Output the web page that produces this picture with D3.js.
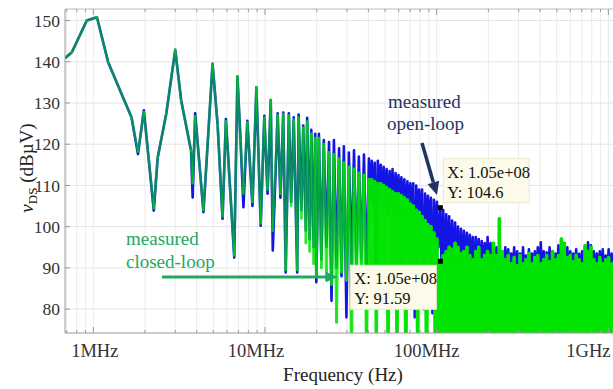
<!DOCTYPE html>
<html>
<head>
<meta charset="utf-8">
<script src="https://cdn.jsdelivr.net/npm/d3@7"></script>
<style>
  body { margin: 0; background: #fff; }
  svg { display: block; }
</style>
</head>
<body>
<div id="chart"></div>
<script>
// frequency points (MHz), both traces were measured on the same grid
const freqMHz = [
  0.686, 0.75, 0.916, 1.05, 1.22, 1.67, 1.82, 1.97, 2.25, 2.37, 2.66, 3.0, 3.25, 3.71, 3.79, 3.92,
  4.38, 4.95, 5.3, 5.66, 5.92, 6.62, 6.91, 7.2, 7.49, 7.89, 8.45, 8.91, 9.44, 9.91, 10.35, 10.8,
  11.1, 11.85, 12.3, 12.77, 13.2, 13.77, 14.2, 14.7, 15.4, 15.7, 16.3, 16.7, 17.3, 17.6, 18.2, 18.6,
  19.2, 19.6, 19.9,
  20.6, 21.3, 22.0, 22.8, 23.6, 24.4, 25.2, 26.1, 27.0, 27.9, 28.8, 29.8, 30.8, 31.9, 33.0, 34.1,
  35.2, 36.4, 37.7, 39.0, 40.3,
  41.1, 41.9, 42.8, 43.6, 44.5, 45.4, 46.3, 47.2, 48.2, 49.1,
  50.1, 51.1, 52.1, 53.2, 54.2, 55.3, 56.4, 57.6, 58.7, 59.9,
  61.1, 62.3, 63.6, 64.8, 66.1, 67.5, 68.8, 70.2, 71.6, 73.0,
  74.5, 76.0, 77.5, 79.0, 80.6, 82.2, 83.9, 85.6, 87.3, 89.0,
  90.8, 92.6, 94.5, 96.4, 98.3, 100.3, 102.3, 105,
  107.1, 109.2, 111.4, 113.6, 115.9, 118.2, 120.6, 123.0, 125.5, 128.0,
  130.5, 133.1, 135.8, 138.5, 141.3, 144.1, 147.0, 150.0, 153.0, 156.0,
  159.1, 162.3, 165.6, 168.9, 172.3, 175.7, 179.2, 182.8, 186.5, 190.2,
  194.0, 197.9, 201.8, 205.9, 210.0, 214.2, 218.5, 222.8, 227.3, 231.8,
  236.5, 241.2, 246.0, 250.9, 256.0, 261.1, 266.3, 271.6, 277.1, 282.6,
  288.3, 294.1, 299.9, 305.9, 312.0, 318.3, 324.6, 331.1, 337.8, 344.5,
  351.4, 358.4, 365.6, 372.9, 380.4, 388.0, 395.8, 403.7, 411.7, 420.0,
  428.4, 436.9, 445.7, 454.6, 463.7, 472.9, 482.4, 492.0, 501.9, 511.9,
  522.1, 532.6, 543.2, 554.1, 565.2, 576.5, 588.0, 599.8, 611.8, 624.0,
  636.5, 649.2, 662.2, 675.5, 689.0, 702.8, 716.8, 731.2, 745.8, 760.7,
  775.9, 791.5, 807.3, 823.4, 839.9, 856.7, 873.8, 891.3, 909.1, 927.3,
  945.8, 964.8, 984.1, 1003.7, 1023.8, 1044.3, 1065
];

// measured open-loop v_DS (dBuV)
const openLoopDb = [
  140.9, 142.3, 150.0, 150.8, 139.9, 126.5, 117.6, 128.2, 103.9, 116.7, 127.4, 142.9, 130.6, 118.4, 107.1, 127.5,
  103.5, 139.5, 124.5, 101.9, 126.1, 92.5, 136.4, 121.0, 104.7, 125.7, 105.0, 133.8, 100.2, 126.9, 108.0, 130.7,
  94.2, 127.5, 107.0, 127.7, 88.9, 127.5, 106.0, 126.5, 88.9, 127.2, 104.0, 124.5, 99.0, 126.4, 97.0, 123.5,
  95.0, 122.5, 86.5,
  122.5, 92, 121, 95, 120.5, 82, 121, 90, 119, 88, 119.5, 78, 118, 91, 118.5, 89,
  117, 92, 117.5, 88, 116.5,
  106, 116, 105, 115.5, 84, 116, 106, 115, 104, 114.5,
  105, 114, 103, 113.5, 104, 114, 102, 113, 103, 112.5,
  103, 112, 102, 111.5, 101, 111, 102, 110.5, 100, 110.5,
  78, 110, 100, 109, 99, 109, 80, 108, 98, 107.5,
  97, 107, 79, 106.5, 96, 106, 95, 104.6,
  88, 104, 87, 103, 89, 102.5, 86, 101.5, 88, 101,
  87, 100, 88, 99.5, 86, 99, 89, 98.5, 87, 98,
  88, 97.5, 86, 97.5, 88, 97, 87, 96.5, 88, 96,
  87, 97.5, 88, 96, 86, 95.5, 88, 95, 87, 94.5,
  88, 94, 86, 95, 88, 94.5, 87, 93.5, 88, 95,
  86, 94, 88, 93.5, 87, 95, 88, 93, 86, 94.5,
  88, 93.5, 87, 94, 88, 95, 86, 96.2, 88, 94,
  87, 93.8, 88, 95, 86, 94, 88, 93.5, 87, 95.5,
  88, 94, 86, 93.5, 88, 95, 87, 94, 88, 93.5,
  86, 94.5, 88, 93.4, 87, 94, 88, 95, 86, 96.2,
  88, 95.5, 87, 94, 88, 93.5, 86, 94, 88, 94.5,
  87, 93, 88, 94.5, 86, 93.5, 88
];

// measured closed-loop v_DS (dBuV)
const closedLoopDb = [
  140.9, 142.3, 150.0, 150.8, 139.9, 126.5, 118.2, 127.8, 104.5, 116.7, 127.4, 142.9, 130.6, 118.4, 110.5, 126.8,
  104.0, 139.5, 124.5, 102.5, 125.6, 93.0, 136.4, 121.0, 108.0, 125.3, 106.0, 133.8, 100.8, 126.5, 109.0, 130.7,
  99.0, 127.0, 108.0, 127.3, 89.5, 127.0, 105.0, 126.0, 89.5, 126.5, 102.0, 124.0, 96.0, 125.5, 94.0, 122.5,
  91.0, 121.5, 88.0,
  121.5, 90, 120, 87, 118, 86, 117.5, 76.8, 116.5, 89, 115.5, 87, 114.5, 70, 114, 88,
  113, 89, 112.5, 72, 111.5,
  88, 111.5, 89, 111, 70, 110.5, 87, 110.5, 88, 110,
  89, 109.5, 68, 109, 88, 108.5, 89, 108, 72, 108,
  88, 107.5, 87, 107, 66, 106.5, 89, 105.5, 88, 105,
  87, 104, 70, 103.5, 88, 102.5, 87, 101.5, 65, 100.5,
  88, 100, 86, 98.5, 64, 97, 66, 91.59,
  62, 93, 60, 94, 63, 95, 61, 94.5, 60, 96,
  62, 95, 61, 93.5, 63, 94, 60, 95, 62, 93,
  61, 92, 63, 94, 60, 95, 62, 92, 61, 93,
  63, 94, 60, 93, 62, 96, 61, 93, 63, 101.9,
  60, 94, 62, 92, 61, 93, 63, 91, 60, 92.5,
  62, 90.5, 61, 93, 63, 91, 60, 92, 62, 93.5,
  61, 91, 63, 92.5, 60, 93, 62, 91, 61, 92,
  63, 93, 60, 91.5, 62, 94, 61, 92, 63, 93,
  60, 97, 62, 96, 61, 92.5, 63, 93, 60, 91.5,
  62, 93, 61, 92, 63, 91, 60, 95.4, 62, 94,
  61, 95, 63, 92, 60, 91, 62, 92.5, 61, 91,
  63, 92, 60, 92.5, 62, 91, 61
];

const xTicks = [1, 10, 100, 1000];
const xTickLabels = ['1MHz', '10MHz', '100MHz', '1GHz'];
const xLabelShift = [1.5, -9, -10, -20];   // labels sit a bit left of their ticks in the original
const yTicks = [80, 90, 100, 110, 120, 130, 140, 150];

// data tips
const tipFreqMHz = 105;
const tipOpenDb = 104.6;
const tipClosedDb = 91.59;

const width = 613, height = 389;
const plot = { left: 65, right: 613, top: 9, bottom: 333 };

const blue = '#1414e6';
const green = '#00e400';
const navy = '#1f3464';
const textGreen = '#22a865';

const svg = d3.select('#chart').append('svg')
  .attr('width', width)
  .attr('height', height)
  .attr('font-family', '"Liberation Serif", "Times New Roman", Times, serif');

const x = d3.scaleLog().domain([0.684, 1064]).range([plot.left, plot.right]);
const y = d3.scaleLinear().domain([74.2, 152.8]).range([plot.bottom, plot.top]);
// the closed-loop trace piles up on itself where harmonics crowd together,
// so it gets more solid towards high frequency
const greenAlpha = d3.scaleLog().domain([15, 60]).range([0.55, 0.92]).clamp(true);
const greenWidth = d3.scaleLog().domain([15, 60]).range([2.5, 3.4]).clamp(true);

svg.append('clipPath').attr('id', 'clip')
  .append('rect')
    .attr('x', plot.left).attr('y', plot.top)
    .attr('width', plot.right - plot.left).attr('height', plot.bottom - plot.top);

// grid
const minorTicks = x.ticks().filter(t => t > x.domain()[0] && t < x.domain()[1]);
svg.append('g')
  .selectAll('line').data(minorTicks).enter().append('line')
    .attr('x1', d => x(d)).attr('x2', d => x(d))
    .attr('y1', plot.top).attr('y2', plot.bottom)
    .attr('stroke', '#ececec').attr('stroke-width', 1);
svg.append('g')
  .selectAll('line').data(yTicks).enter().append('line')
    .attr('x1', plot.left).attr('x2', plot.right)
    .attr('y1', d => y(d)).attr('y2', d => y(d))
    .attr('stroke', '#e4e4e4').attr('stroke-width', 1);

const pts = freqMHz.map((f, i) => ({ f, open: openLoopDb[i], closed: closedLoopDb[i] }));

const traces = svg.append('g').attr('clip-path', 'url(#clip)');

traces.append('path')
  .datum(pts)
  .attr('fill', 'none')
  .attr('stroke', blue)
  .attr('stroke-width', 2.6)
  .attr('stroke-linejoin', 'round')
  .attr('d', d3.line().x(d => x(d.f)).y(d => y(d.open)));

// closed-loop drawn as see-through segments, so it mixes with the blue trace
traces.append('g')
  .selectAll('line').data(d3.pairs(pts)).enter().append('line')
    .attr('x1', d => x(d[0].f)).attr('y1', d => y(d[0].closed))
    .attr('x2', d => x(d[1].f)).attr('y2', d => y(d[1].closed))
    .attr('stroke', green)
    .attr('stroke-opacity', d => greenAlpha(d[0].f))
    .attr('stroke-width', d => greenWidth(d[0].f))
    .attr('stroke-linecap', 'round');

// axes frame
const axisColor = '#9a9a9a';
svg.append('line').attr('x1', plot.left).attr('x2', plot.left).attr('y1', plot.top).attr('y2', plot.bottom)
  .attr('stroke', axisColor);
svg.append('line').attr('x1', plot.left).attr('x2', plot.right).attr('y1', plot.bottom).attr('y2', plot.bottom)
  .attr('stroke', axisColor);
svg.append('line').attr('x1', plot.left).attr('x2', plot.right).attr('y1', plot.top).attr('y2', plot.top)
  .attr('stroke', '#bbbbbb');

// x ticks (inward, top and bottom)
const xTickG = svg.append('g').attr('stroke', axisColor);
minorTicks.forEach(t => {
  const len = xTicks.includes(t) ? 6 : 3;
  xTickG.append('line').attr('x1', x(t)).attr('x2', x(t)).attr('y1', plot.bottom).attr('y2', plot.bottom - len);
  xTickG.append('line').attr('x1', x(t)).attr('x2', x(t)).attr('y1', plot.top).attr('y2', plot.top + len);
});
svg.append('g')
  .selectAll('text').data(xTicks).enter().append('text')
    .attr('x', (d, i) => x(d) + xLabelShift[i])
    .attr('y', 357)
    .attr('text-anchor', 'middle')
    .attr('font-size', 18.5)
    .attr('fill', '#333')
    .text((d, i) => xTickLabels[i]);

// y ticks
svg.append('g').attr('stroke', axisColor)
  .selectAll('line').data(yTicks).enter().append('line')
    .attr('x1', plot.left).attr('x2', plot.left + 5)
    .attr('y1', d => y(d)).attr('y2', d => y(d));
svg.append('g')
  .selectAll('text').data(yTicks).enter().append('text')
    .attr('x', 60)
    .attr('y', d => y(d))
    .attr('dy', '0.35em')
    .attr('text-anchor', 'end')
    .attr('font-size', 17.5)
    .attr('fill', '#333')
    .text(d => d);

// axis titles
svg.append('text')
  .attr('x', (plot.left + plot.right) / 2 + 4)
  .attr('y', 381)
  .attr('text-anchor', 'middle')
  .attr('font-size', 19)
  .attr('fill', '#222')
  .text('Frequency (Hz)');

const yTitle = svg.append('text')
  .attr('transform', 'translate(33,168) rotate(-90)')
  .attr('text-anchor', 'middle')
  .attr('font-size', 19)
  .attr('fill', '#222');
yTitle.append('tspan').attr('font-style', 'italic').text('v');
yTitle.append('tspan').attr('font-size', 13).attr('dy', 4).text('DS');
yTitle.append('tspan').attr('dy', -4).text(' (dBµV)');

// data tip markers and boxes
const mx = x(tipFreqMHz);
const tips = [
  { db: tipOpenDb, bx: mx + 3, by: y(tipOpenDb) - 49 },
  { db: tipClosedDb, bx: mx - 90, by: y(tipClosedDb) + 4 }
];
tips.forEach(t => {
  const g = svg.append('g');
  g.append('rect')
    .attr('x', t.bx).attr('y', t.by)
    .attr('width', 86).attr('height', 44)
    .attr('fill', '#fcfae8').attr('stroke', '#ece8d0');
  g.append('text').attr('x', t.bx + 4).attr('y', t.by + 19)
    .attr('font-size', 16.5).attr('fill', '#111')
    .text('X: ' + d3.format('.2e')(tipFreqMHz * 1e6).replace('e+', 'e+0'));
  g.append('text').attr('x', t.bx + 4).attr('y', t.by + 39)
    .attr('font-size', 16.5).attr('fill', '#111')
    .text('Y: ' + t.db);
  svg.append('rect')
    .attr('x', mx - 2.5).attr('y', y(t.db) - 2.5)
    .attr('width', 5).attr('height', 5)
    .attr('fill', '#000');
});

// annotations
function arrow(x1, y1, x2, y2, color, w, headLen, headHalf) {
  const dx = x2 - x1, dy = y2 - y1, L = Math.hypot(dx, dy);
  const ux = dx / L, uy = dy / L;
  const bx = x2 - ux * headLen, by = y2 - uy * headLen;
  svg.append('line').attr('x1', x1).attr('y1', y1).attr('x2', bx).attr('y2', by)
    .attr('stroke', color).attr('stroke-width', w);
  svg.append('path')
    .attr('d', `M${x2},${y2}L${bx - uy * headHalf},${by + ux * headHalf}L${bx + uy * headHalf},${by - ux * headHalf}Z`)
    .attr('fill', color);
}

svg.append('text').attr('x', 388).attr('y', 108).attr('font-size', 19).attr('fill', navy).text('measured');
svg.append('text').attr('x', 387).attr('y', 130).attr('font-size', 19).attr('fill', navy).text('open-loop');
arrow(422, 143, 437, 195, navy, 3.5, 13, 6);

svg.append('text').attr('x', 126).attr('y', 245).attr('font-size', 19).attr('fill', textGreen).text('measured');
svg.append('text').attr('x', 126).attr('y', 268).attr('font-size', 19).attr('fill', textGreen).text('closed-loop');
arrow(162, 277, 338, 277, textGreen, 3, 12, 5);
</script>
</body>
</html>
